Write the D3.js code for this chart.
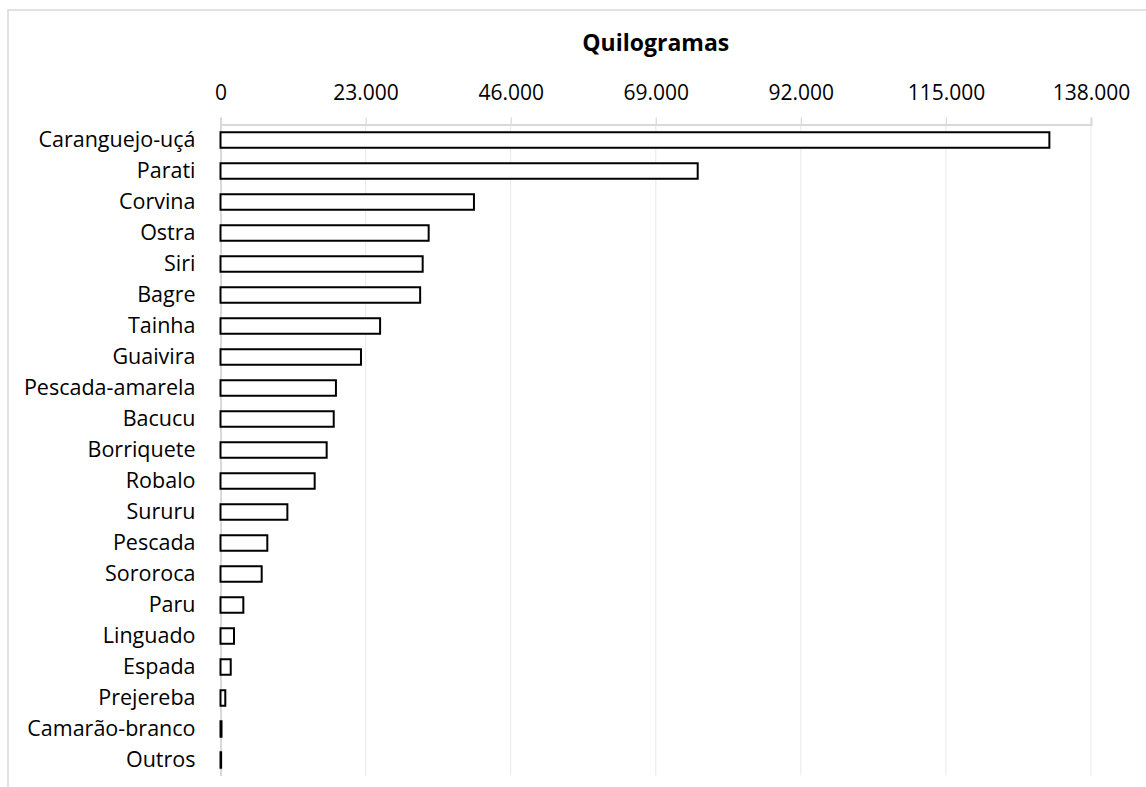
<!DOCTYPE html>
<html>
<head>
<meta charset="utf-8">
<script src="https://cdn.jsdelivr.net/npm/d3@7"></script>
<style>
  html, body { margin: 0; padding: 0; background: #fff; }
  svg { display: block; }
  text { font-family: "Open Sans", sans-serif; fill: #000; }
</style>
</head>
<body>
<svg id="chart" width="1146" height="787"></svg>
<script>
const categories = ["Caranguejo-uçá","Parati","Corvina","Ostra","Siri","Bagre","Tainha","Guaivira","Pescada-amarela","Bacucu","Borriquete","Robalo","Sururu","Pescada","Sororoca","Paru","Linguado","Espada","Prejereba","Camarão-branco","Outros"];
const values = [131400,75650,40180,33000,32050,31650,25300,22270,18300,17950,16830,14930,10600,7420,6530,3620,2140,1620,760,160,100];
const tickValues = [0,23000,46000,69000,92000,115000,138000];
const title = "Quilogramas";

const svg = d3.select("#chart");
const plotLeft = 220.5, plotRight = 1091, plotTop = 124.5, plotBottom = 775.5;

// outer chart-area border (partially visible)
svg.append("rect").attr("x", 8).attr("y", 10).attr("width", 1160).attr("height", 800)
  .attr("fill", "none").attr("stroke", "#d9d9d9").attr("stroke-width", 1.5);

const x = d3.scaleLinear().domain([0, 138000]).range([plotLeft, plotRight]);
const y = d3.scaleBand().domain(categories).range([plotTop, plotBottom]).paddingInner(0.5).paddingOuter(0.25);

const fmt = v => d3.format(",")(v).replace(/,/g, ".");

// gridlines
svg.append("g").selectAll("line").data(tickValues.slice(1)).join("line")
  .attr("x1", d => x(d)).attr("x2", d => x(d))
  .attr("y1", plotTop).attr("y2", plotBottom)
  .attr("stroke", "#ececec").attr("stroke-width", 1.2);

// top axis
const xAxis = d3.axisTop(x).tickValues(tickValues).tickFormat(fmt).tickSize(7).tickPadding(18);
const gx = svg.append("g").attr("transform", `translate(0,${plotTop})`).call(xAxis);
gx.select(".domain").attr("stroke", "#d9d9d9").attr("stroke-width", 2);
gx.selectAll(".tick line").attr("stroke", "#d9d9d9").attr("stroke-width", 1.2);
gx.selectAll(".tick text").attr("font-family", "Open Sans").attr("font-size", 21).attr("fill", "#000");

// left axis
const yAxis = d3.axisLeft(y).tickSize(0).tickPadding(25);
const gy = svg.append("g").attr("transform", `translate(${plotLeft},0)`).call(yAxis);
gy.select(".domain").attr("stroke", "#d9d9d9").attr("stroke-width", 2);
gy.selectAll(".tick text").attr("font-family", "Open Sans").attr("font-size", 21.5).attr("fill", "#000");

// bars
svg.append("g").selectAll("rect").data(categories).join("rect")
  .attr("x", x(0))
  .attr("y", d => y(d))
  .attr("width", (d, i) => x(values[i]) - x(0))
  .attr("height", y.bandwidth())
  .attr("fill", "#fff").attr("stroke", "#000").attr("stroke-width", 2);

// title
svg.append("text").attr("x", (plotLeft + plotRight) / 2).attr("y", 51)
  .attr("text-anchor", "middle").attr("font-size", 23).attr("font-weight", "bold")
  .attr("font-family", "Open Sans").text(title);
</script>
</body>
</html>
